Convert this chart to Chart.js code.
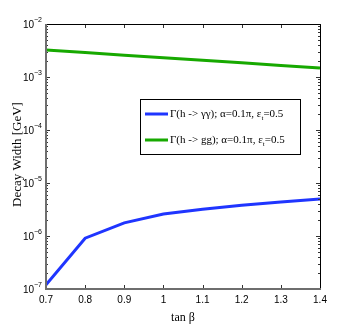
<!DOCTYPE html>
<html>
<head>
<meta charset="utf-8">
<script src="https://cdn.jsdelivr.net/npm/chart.js@4.4.0/dist/chart.umd.min.js"></script>
<style>
  html, body { margin: 0; padding: 0; background: #fff; }
  #wrap { width: 354px; height: 327px; }
</style>
</head>
<body>
<div id="wrap"><canvas id="myChart"></canvas></div>
<script>
"use strict";

/* data */
const tanBeta = [0.7, 0.8, 0.9, 1.0, 1.1, 1.2, 1.3, 1.4];
const widthGammaGamma = [1.2e-7, 9.1e-7, 1.77e-6, 2.6e-6, 3.2e-6, 3.8e-6, 4.4e-6, 5.0e-6];
const widthGluonGluon = [3.23e-3, 2.89e-3, 2.58e-3, 2.31e-3, 2.07e-3, 1.85e-3, 1.65e-3, 1.48e-3];
const xTicks = [0.7, 0.8, 0.9, 1.0, 1.1, 1.2, 1.3, 1.4];
const yDecades = [-7, -6, -5, -4, -3, -2];
const seriesLabels = ['\u0393(h -> \u03b3\u03b3); \u03b1=0.1\u03c0, \u03b5', '\u0393(h -> gg); \u03b1=0.1\u03c0, \u03b5'];
const seriesColors = ['#1f35ff', '#17a900'];

const tickFont = '10px "Liberation Sans Narrow", "Liberation Sans", sans-serif';
const serif = '"Liberation Serif", "DejaVu Serif", serif';

/* axes box, inward ticks and decade labels like matlab */
const axesBox = {
    id: 'axesBox',
    afterDraw(chart) {
        const ctx = chart.ctx;
        const a = chart.chartArea;
        const xs = chart.scales.x;
        const ys = chart.scales.y;
        ctx.save();

        /* x ticks */
        ctx.strokeStyle = '#333';
        ctx.lineWidth = 1;
        xTicks.forEach(v => {
            const px = Math.round(xs.getPixelForValue(v)) + 0.5;
            ctx.beginPath();
            ctx.moveTo(px, a.bottom); ctx.lineTo(px, a.bottom - 4);
            ctx.moveTo(px, a.top); ctx.lineTo(px, a.top + 4);
            ctx.stroke();
        });
        ctx.fillStyle = '#000';
        ctx.font = tickFont;
        ctx.textAlign = 'center';
        ctx.textBaseline = 'top';
        xTicks.forEach(v => {
            let s = v.toFixed(1);
            if (s === '1.0') s = '1';
            ctx.fillText(s, xs.getPixelForValue(v), a.bottom + 6);
        });

        /* y ticks, major and minor */
        yDecades.forEach(d => {
            const py = Math.round(ys.getPixelForValue(Math.pow(10, d))) + 0.5;
            ctx.beginPath();
            ctx.moveTo(a.left, py); ctx.lineTo(a.left + 4, py);
            ctx.moveTo(a.right, py); ctx.lineTo(a.right - 4, py);
            ctx.stroke();
            if (d < yDecades[yDecades.length - 1]) {
                for (let m = 2; m <= 9; m++) {
                    const pm = Math.round(ys.getPixelForValue(m * Math.pow(10, d))) + 0.5;
                    ctx.beginPath();
                    ctx.moveTo(a.left, pm); ctx.lineTo(a.left + 2, pm);
                    ctx.moveTo(a.right, pm); ctx.lineTo(a.right - 2, pm);
                    ctx.stroke();
                }
            }
            /* label 10^d */
            ctx.textAlign = 'left';
            ctx.textBaseline = 'middle';
            const exp = '\u2212' + Math.abs(d);
            ctx.font = '7px "Liberation Sans Narrow", "Liberation Sans", sans-serif';
            const we = ctx.measureText(exp).width;
            ctx.font = tickFont;
            const wb = ctx.measureText('10').width;
            const x0 = a.left - 4 - we - wb;
            ctx.fillText('10', x0, py + 1);
            ctx.font = '7px "Liberation Sans Narrow", "Liberation Sans", sans-serif';
            ctx.fillText(exp, x0 + wb, py - 4);
        });

        /* box */
        ctx.lineWidth = 1;
        ctx.strokeStyle = '#000';
        ctx.beginPath();
        ctx.moveTo(a.left, a.top + 0.5); ctx.lineTo(a.right + 0.5, a.top + 0.5); ctx.lineTo(a.right + 0.5, a.bottom);
        ctx.stroke();
        ctx.strokeStyle = '#6e6e6e';
        ctx.lineWidth = 2;
        ctx.beginPath();
        ctx.moveTo(a.left, a.top); ctx.lineTo(a.left, a.bottom); ctx.lineTo(a.right + 1, a.bottom);
        ctx.stroke();

        /* axis titles */
        ctx.fillStyle = '#000';
        ctx.font = '12px ' + serif;
        ctx.textAlign = 'center';
        ctx.textBaseline = 'middle';
        ctx.fillText('tan \u03b2', (a.left + a.right) / 2, a.bottom + 29);
        ctx.save();
        ctx.font = '13px ' + serif;
        ctx.translate(18, (a.top + a.bottom) / 2 - 2);
        ctx.rotate(-Math.PI / 2);
        ctx.fillText('Decay Width [GeV]', 0, 0);
        ctx.restore();

        /* legend box inside the axes */
        const lx = a.left + 94, ly = a.top + 75, lw = 160, lh = 55;
        ctx.fillStyle = '#fff';
        ctx.fillRect(lx, ly, lw, lh);
        ctx.strokeStyle = '#000';
        ctx.lineWidth = 1;
        ctx.strokeRect(lx + 0.5, ly + 0.5, lw, lh);
        chart.data.datasets.forEach((ds, i) => {
            const yy = ly + 15 + i * 26;
            ctx.strokeStyle = ds.borderColor;
            ctx.lineWidth = 3;
            ctx.beginPath();
            ctx.moveTo(lx + 5, yy); ctx.lineTo(lx + 28, yy);
            ctx.stroke();
            ctx.fillStyle = '#000';
            ctx.textAlign = 'left';
            ctx.textBaseline = 'middle';
            ctx.font = '11px ' + serif;
            let tx = lx + 30;
            ctx.fillText(seriesLabels[i], tx, yy);
            tx += ctx.measureText(seriesLabels[i]).width;
            ctx.font = '7px ' + serif;
            ctx.fillText('t', tx, yy + 4);
            tx += ctx.measureText('t').width;
            ctx.font = '11px ' + serif;
            ctx.fillText('=0.5', tx, yy);
        });
        ctx.restore();
    }
};

const ctx1 = document.getElementById('myChart');

new Chart(ctx1, {
    type: 'line',
    data: {
        datasets: [{
            label: seriesLabels[0],
            data: tanBeta.map((x, i) => ({ x: x, y: widthGammaGamma[i] })),
            borderColor: seriesColors[0],
            borderWidth: 3,
            pointRadius: 0,
            tension: 0
        }, {
            label: seriesLabels[1],
            data: tanBeta.map((x, i) => ({ x: x, y: widthGluonGluon[i] })),
            borderColor: seriesColors[1],
            borderWidth: 3,
            pointRadius: 0,
            tension: 0
        }]
    },
    options: {
        responsive: true,
        maintainAspectRatio: false,
        animation: false,
        layout: { padding: { left: 0, top: 24, right: 34, bottom: 0 } },
        plugins: {
            legend: { display: false },
            tooltip: { enabled: false }
        },
        scales: {
            x: {
                type: 'linear',
                min: 0.7,
                max: 1.4,
                grid: { display: false },
                border: { display: false },
                ticks: { display: false },
                afterFit(scale) { scale.height = 38; }
            },
            y: {
                type: 'logarithmic',
                min: 1e-7,
                max: 1e-2,
                grid: { display: false },
                border: { display: false },
                ticks: { display: false },
                afterFit(scale) { scale.width = 46; }
            }
        }
    },
    plugins: [axesBox]
});
</script>
</body>
</html>
